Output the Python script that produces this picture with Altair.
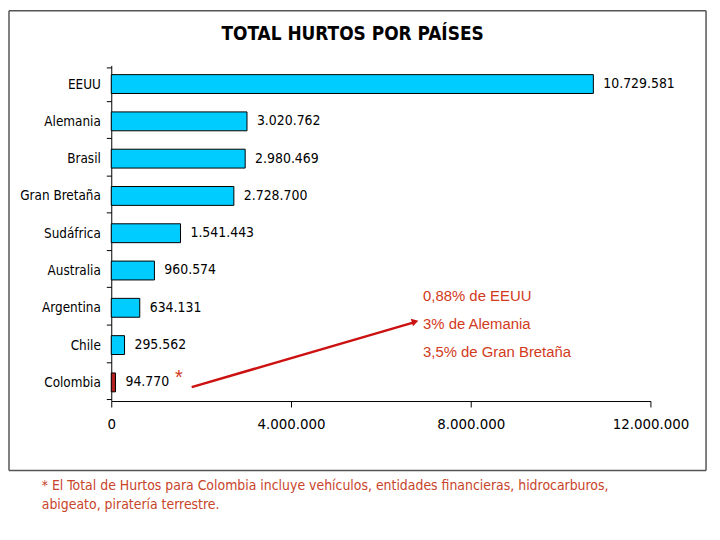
import altair as alt
import pandas as pd

countries = ["EEUU", "Alemania", "Brasil", "Gran Bretaña", "Sudáfrica", "Australia", "Argentina", "Chile", "Colombia"]
values = [10729581, 3020762, 2980469, 2728700, 1541443, 960574, 634131, 295562, 94770]
labels = ["10.729.581", "3.020.762", "2.980.469", "2.728.700", "1.541.443", "960.574", "634.131", "295.562", "94.770"]
highlight = ["no", "no", "no", "no", "no", "no", "no", "no", "yes"]
x_ticks = [0, 4000000, 8000000, 12000000]

title_text = "TOTAL HURTOS POR PAÍSES"
notes = ["0,88% de EEUU", "3% de Alemania", "3,5% de Gran Bretaña"]
footnote = ["* El Total de Hurtos para Colombia incluye vehículos, entidades financieras, hidrocarburos,",
            "abigeato, piratería terrestre."]

df = pd.DataFrame({"pais": countries, "valor": values, "etiqueta": labels, "col": highlight})

FONT = "DejaVu Sans Condensed"
RED = "#D23A1C"

x_enc = alt.X("valor:Q", scale=alt.Scale(domain=[0, 12000000], nice=False),
              axis=alt.Axis(values=x_ticks, title=None, grid=False, format=",d",
                            labelFont=FONT, labelFontSize=15, labelColor="black",
                            labelPadding=10, tickSize=6, tickColor="black",
                            domainColor="black", labelFlush=False))
y_enc = alt.Y("pais:N", sort=countries,
              axis=alt.Axis(title=None, labelFont=FONT, labelFontSize=13.5, labelColor="black",
                            labelPadding=6, tickSize=5, tickBand="extent", tickColor="black",
                            domainColor="black"))

bars = alt.Chart(df).mark_bar(size=19, stroke="black", strokeWidth=1).encode(
    x=x_enc, y=y_enc,
    color=alt.Color("col:N", scale=alt.Scale(domain=["no", "yes"], range=["#00CCFF", "#B22222"]), legend=None),
)

vals = alt.Chart(df).mark_text(align="left", dx=10, font=FONT, fontSize=14, color="black").encode(
    x="valor:Q", y=alt.Y("pais:N", sort=countries), text="etiqueta:N"
)

title = alt.Chart(pd.DataFrame({"t": [title_text]})).mark_text(
    font=FONT, fontSize=19, fontWeight="bold", color="black", align="center", baseline="middle"
).encode(x=alt.value(243), y=alt.value(-32), text="t:N")

notes_df = pd.DataFrame({"t": notes, "yy": [232, 260, 289]})
note_marks = alt.Chart(notes_df).mark_text(
    font="Liberation Sans", fontSize=15, color=RED, align="left", baseline="middle"
).encode(x=alt.value(314), y=alt.Y("yy:Q", scale=None), text="t:N")

star = alt.Chart(pd.DataFrame({"t": ["*"]})).mark_text(
    font="Liberation Sans", fontSize=20, color=RED, align="center", baseline="middle"
).encode(x=alt.value(68), y=alt.value(315), text="t:N")

arrow = alt.Chart(pd.DataFrame({"a": [0]})).mark_rule(color="#CC1111", strokeWidth=2.5).encode(
    x=alt.value(81), y=alt.value(324), x2=alt.value(304), y2=alt.value(259)
)
head = alt.Chart(pd.DataFrame({"a": [0]})).mark_point(
    shape="triangle-right", filled=True, color="#CC1111", size=60, angle=344, opacity=1
).encode(x=alt.value(306), y=alt.value(258))

foot_df = pd.DataFrame({"t": footnote, "yy": [424, 443]})
foot = alt.Chart(foot_df).mark_text(
    font=FONT, fontSize=14, color="#C8442A", align="left", baseline="middle"
).encode(x=alt.value(-70), y=alt.Y("yy:Q", scale=None), text="t:N")

L, R, T, B = -103, 599, -55, 408
frame_style = dict(color="#555555", strokeWidth=1.5)
f_top = alt.Chart(pd.DataFrame({"a": [0]})).mark_rule(**frame_style).encode(
    x=alt.value(L), x2=alt.value(R), y=alt.value(T))
f_bot = alt.Chart(pd.DataFrame({"a": [0]})).mark_rule(**frame_style).encode(
    x=alt.value(L), x2=alt.value(R), y=alt.value(B))
f_left = alt.Chart(pd.DataFrame({"a": [0]})).mark_rule(**frame_style).encode(
    x=alt.value(L), y=alt.value(T), y2=alt.value(B))
f_right = alt.Chart(pd.DataFrame({"a": [0]})).mark_rule(**frame_style).encode(
    x=alt.value(R), y=alt.value(T), y2=alt.value(B))

chart = alt.layer(f_top, f_bot, f_left, f_right, bars, vals, title, note_marks, star, arrow, head, foot).properties(
    width=543, height=338,
    autosize=alt.AutoSizeParams(type="none"),
    padding={"left": 104, "top": 56, "right": 62, "bottom": 120},
).configure(background="white", view=alt.ViewConfig(stroke=None))

chart.save("out.html", embed_options={"renderer": "svg", "actions": False,
                                      "formatLocale": {"decimal": ",", "thousands": ".",
                                                       "grouping": [3], "currency": ["$", ""]}})
